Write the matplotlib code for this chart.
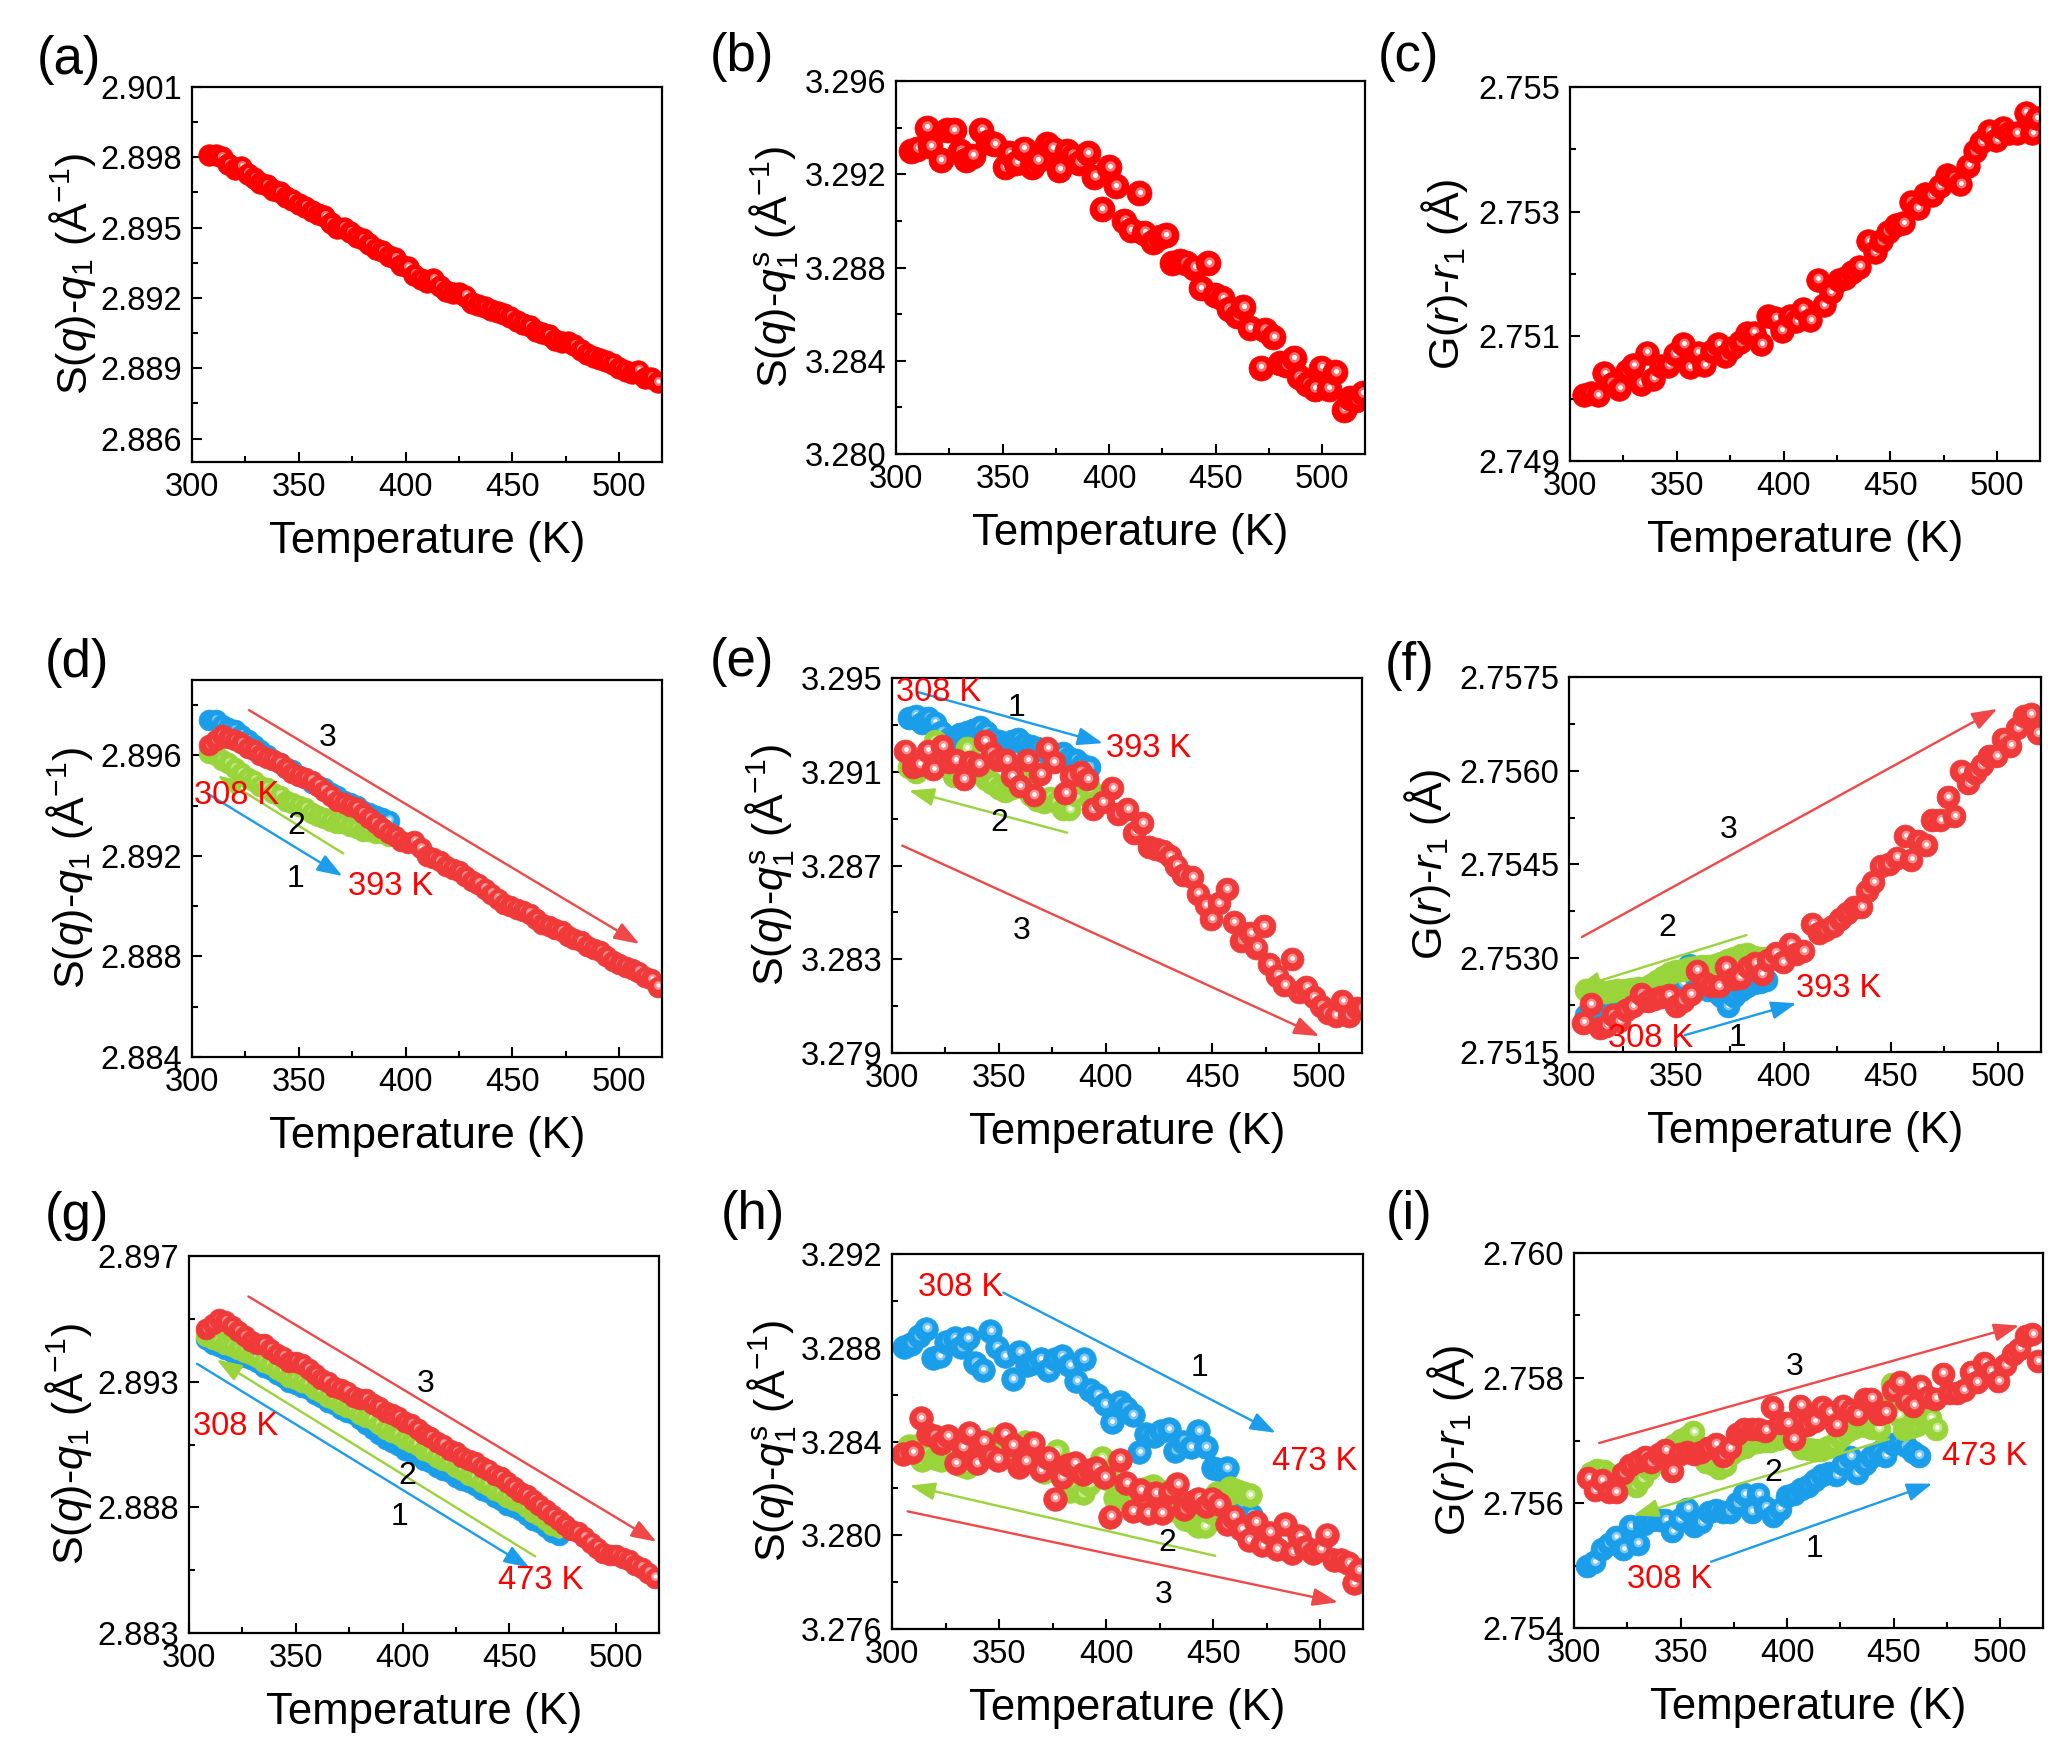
import numpy as np
import matplotlib
matplotlib.use('Agg')
import matplotlib.pyplot as plt
import matplotlib.transforms as mtransforms
from matplotlib.ticker import FixedLocator, FormatStrFormatter

plt.rcParams['font.family'] = ['Liberation Sans', 'DejaVu Sans']
plt.rcParams['mathtext.fontset'] = 'custom'
plt.rcParams['mathtext.rm'] = 'Liberation Sans'
plt.rcParams['mathtext.it'] = 'Liberation Sans:italic'
plt.rcParams['mathtext.bf'] = 'Liberation Sans:bold'

# ---------------- data ----------------
T_full = np.arange(308, 519, 3)      # 308 ... 518 K
T_393 = np.arange(308, 393, 3)       # 308 ... 392 K
T_473 = np.arange(308, 474, 3)       # 308 ... 473 K

# (a)
a_red = [2.8981, 2.8981, 2.8980, 2.8977, 2.8975, 2.8976, 2.8973, 2.8971, 2.8969, 2.8968,
         2.8966, 2.8965, 2.8963, 2.8962, 2.8960, 2.8959, 2.8957, 2.8956, 2.8955, 2.8952,
         2.8950, 2.8950, 2.8948, 2.8946, 2.8945, 2.8943, 2.8941, 2.8940, 2.8938, 2.8937,
         2.8934, 2.8933, 2.8930, 2.8928, 2.8927, 2.8928, 2.8925, 2.8923, 2.8922, 2.8922,
         2.8921, 2.8918, 2.8917, 2.8916, 2.8915, 2.8914, 2.8913, 2.8912, 2.8910, 2.8909,
         2.8908, 2.8906, 2.8905, 2.8904, 2.8902, 2.8901, 2.8901, 2.8900, 2.8898, 2.8896,
         2.8895, 2.8894, 2.8893, 2.8892, 2.8890, 2.8889, 2.8888, 2.8889, 2.8886, 2.8886,
         2.8884]

# (b)
b_T = [307, 310, 314.5, 316, 321, 324, 327, 330, 333, 336, 340, 343, 346, 351, 353,
       356.5, 360, 364, 366.5, 371, 373.5, 376.5, 380, 383, 386, 390, 393, 396.5, 400, 403,
       407, 410, 414, 416.5, 420.5, 424, 426.5, 429.5, 433, 436, 440, 443, 446.5, 449.5, 453,
       456, 460, 463, 466, 471, 473, 477, 480, 483, 486.5, 489, 493, 496.5, 499.5, 503,
       506, 510, 513, 516, 519]
b_red = [3.2930, 3.2931, 3.2940, 3.2932, 3.2926, 3.2939, 3.2939, 3.2930, 3.2926, 3.2928,
         3.2939, 3.2934, 3.2933, 3.2923, 3.2929, 3.2925, 3.2931, 3.2923, 3.2926, 3.2933,
         3.2931, 3.2922, 3.2930, 3.2928, 3.2925, 3.2929, 3.2919, 3.2905, 3.2923, 3.2915,
         3.2900, 3.2896, 3.2912, 3.2895, 3.2891, 3.2893, 3.2894, 3.2882, 3.2883, 3.2882,
         3.2880, 3.2871, 3.2882, 3.2868, 3.2867, 3.2862, 3.2859, 3.2863, 3.2854, 3.2837,
         3.2853, 3.2850, 3.2839, 3.2838, 3.2841, 3.2833, 3.2830, 3.2828, 3.2837, 3.2828,
         3.2835, 3.2819, 3.2824, 3.2823, 3.2826]

# (c)
c_T = [306.5, 309.6, 313, 316, 319.5, 323, 326.6, 329.7, 333, 336, 339, 342.4, 346, 349, 353,
       356, 359.8, 362.8, 366.3, 369.4, 372.7, 376, 379.6, 382.7, 386, 389.5, 392.7, 396, 399,
       402.8, 405.8, 409, 412.4, 416, 418.7, 422, 425.7, 428.8, 432, 435.5, 439.5, 442.7, 445.8,
       448.8, 452.5, 456, 459.5, 462.8, 466.3, 469.3, 473, 476.5, 479.5, 482.6, 486.3, 489.4,
       492.4, 496.3, 499.6, 502.7, 505.7, 509.2, 513.3, 516.4, 518.4]
c_red = [2.75006, 2.75009, 2.75006, 2.75041, 2.75024, 2.75016, 2.75044, 2.75054, 2.75024, 2.75074,
         2.75032, 2.75053, 2.75053, 2.75071, 2.75088, 2.75050, 2.75074, 2.75054, 2.75076, 2.75088,
         2.75068, 2.75082, 2.75091, 2.75106, 2.75106, 2.75088, 2.75132, 2.75129, 2.75109, 2.75132,
         2.75124, 2.75144, 2.75126, 2.75191, 2.75150, 2.75171, 2.75191, 2.75194, 2.75203, 2.75212,
         2.75253, 2.75235, 2.75253, 2.75268, 2.75279, 2.75282, 2.75315, 2.75306, 2.75329, 2.75326,
         2.75341, 2.75359, 2.75353, 2.75344, 2.75374, 2.75397, 2.75412, 2.75429, 2.75415, 2.75435,
         2.75426, 2.75426, 2.75459, 2.75426, 2.75450]

# (d)
d_blue = [2.8974, 2.8974, 2.8972, 2.8971, 2.8970, 2.8968, 2.8966, 2.8964, 2.8962, 2.8960,
          2.8958, 2.8957, 2.8955, 2.8954, 2.8952, 2.8951, 2.8949, 2.8948, 2.8947, 2.8945,
          2.8944, 2.8942, 2.8941, 2.8940, 2.8938, 2.8937, 2.8936, 2.8935, 2.8934]
d_green = [2.8961, 2.8960, 2.8958, 2.8957, 2.8955, 2.8953, 2.8951, 2.8950, 2.8948, 2.8947,
           2.8945, 2.8944, 2.8942, 2.8941, 2.8940, 2.8939, 2.8937, 2.8936, 2.8935, 2.8934,
           2.8933, 2.8933, 2.8932, 2.8931, 2.8930, 2.8930, 2.8929, 2.8929, 2.8928]
d_red = [2.8964, 2.8966, 2.8968, 2.8967, 2.8966, 2.8965, 2.8963, 2.8962, 2.8960, 2.8959,
         2.8958, 2.8957, 2.8955, 2.8953, 2.8952, 2.8951, 2.8950, 2.8948, 2.8946, 2.8944,
         2.8942, 2.8941, 2.8940, 2.8939, 2.8937, 2.8935, 2.8933, 2.8931, 2.8929, 2.8928,
         2.8926, 2.8925, 2.8926, 2.8923, 2.8920, 2.8919, 2.8918, 2.8916, 2.8915, 2.8914,
         2.8912, 2.8910, 2.8909, 2.8907, 2.8905, 2.8903, 2.8901, 2.8900, 2.8899, 2.8898,
         2.8897, 2.8895, 2.8893, 2.8892, 2.8891, 2.8890, 2.8888, 2.8887, 2.8886, 2.8884,
         2.8883, 2.8882, 2.8880, 2.8878, 2.8877, 2.8876, 2.8875, 2.8874, 2.8872, 2.8871,
         2.8868]

# (e)
e_blue = [3.2933, 3.2934, 3.2931, 3.2933, 3.2931, 3.2927, 3.2924, 3.2925, 3.2926, 3.2927,
          3.2928, 3.2929, 3.2927, 3.2924, 3.2923, 3.2922, 3.2923, 3.2924, 3.2922, 3.2921,
          3.2920, 3.2919, 3.2918, 3.2917, 3.2918, 3.2916, 3.2915, 3.2913, 3.2912]
e_green = [3.2912, 3.2910, 3.2913, 3.2915, 3.2923, 3.2918, 3.2912, 3.2908, 3.2911, 3.2920,
           3.2914, 3.2910, 3.2907, 3.2905, 3.2903, 3.2902, 3.2903, 3.2904, 3.2905, 3.2900,
           3.2898, 3.2897, 3.2899, 3.2897, 3.2894, 3.2894, 3.2900, 3.2905, 3.2903]
e_T = [306.3, 310, 313, 316.7, 319.4, 323.6, 326.7, 329.9, 333.6, 336.7, 340.3, 343.4, 346.6,
       349.7, 353.4, 356, 359.7, 363.3, 366.4, 369.5, 372.7, 375.8, 381, 384, 388.3, 391.4, 394,
       398.7, 403, 406, 410, 413.4, 417, 420.3, 423.8, 427, 430, 433, 436.3, 440.5, 443.2, 446.8,
       449.5, 453, 456.6, 460, 463.5, 467.6, 470.4, 474, 476.6, 480.3, 483.7, 487, 490.6, 494,
       497.5, 501, 504, 507.8, 510.8, 514, 517.7, 520]
e_red = [3.2919, 3.2912, 3.2913, 3.2919, 3.2911, 3.2921, 3.2914, 3.2915, 3.2907, 3.2914,
         3.2913, 3.2923, 3.2918, 3.2915, 3.2915, 3.2908, 3.2904, 3.2915, 3.2900, 3.2909,
         3.2920, 3.2914, 3.2901, 3.2908, 3.2910, 3.2907, 3.2894, 3.2897, 3.2903, 3.2892,
         3.2894, 3.2884, 3.2888, 3.2878, 3.2877, 3.2876, 3.2874, 3.2870, 3.2866, 3.2865,
         3.2858, 3.2853, 3.2847, 3.2854, 3.2860, 3.2846, 3.2838, 3.2841, 3.2835, 3.2844,
         3.2828, 3.2823, 3.2819, 3.2830, 3.2816, 3.2818, 3.2814, 3.2810, 3.2807, 3.2806,
         3.2812, 3.2806, 3.2809, 3.2809]

# (f)
f_blue = [2.75210, 2.75212, 2.75215, 2.75218, 2.75220, 2.75223, 2.75226, 2.75229, 2.75232, 2.75234,
          2.75236, 2.75238, 2.75240, 2.75242, 2.75245, 2.75260, 2.75290, 2.75270, 2.75255, 2.75250,
          2.75248, 2.75240, 2.75224, 2.75240, 2.75249, 2.75255, 2.75260, 2.75262, 2.75265]
f_green = [2.75249, 2.75250, 2.75248, 2.75246, 2.75248, 2.75249, 2.75250, 2.75251, 2.75252, 2.75252,
           2.75258, 2.75264, 2.75270, 2.75277, 2.75280, 2.75282, 2.75284, 2.75286, 2.75287, 2.75288,
           2.75290, 2.75293, 2.75297, 2.75300, 2.75305, 2.75306, 2.75302, 2.75300, 2.75300]
f_T = [306.7, 310.2, 314.3, 317.3, 320.4, 323.5, 326.5, 329.6, 333.7, 336.7, 339.8, 342.9, 346.5,
       350, 353, 356.7, 359.6, 363.3, 366.3, 369.8, 373, 376.5, 379.6, 383.3, 386.7, 389.8, 392.9,
       396.3, 399.6, 403, 406, 409.2, 413.3, 416.3, 419.4, 422.9, 426.5, 429.6, 433, 436.3, 438.8,
       441.8, 445.3, 449, 452.7, 456.7, 459.6, 462.9, 466.3, 469.4, 473, 476.5, 479.6, 482.7,
       486.1, 489.4, 492.4, 495.9, 499, 502.4, 505.7, 508.8, 512.2, 515.3, 518.4]
f_red = [2.75197, 2.75226, 2.75189, 2.75192, 2.75209, 2.75200, 2.75217, 2.75223, 2.75243, 2.75232,
         2.75235, 2.75238, 2.75241, 2.75223, 2.75232, 2.75243, 2.75280, 2.75260, 2.75255, 2.75255,
         2.75286, 2.75266, 2.75269, 2.75286, 2.75292, 2.75275, 2.75297, 2.75308, 2.75294, 2.75323,
         2.75306, 2.75311, 2.75354, 2.75340, 2.75345, 2.75351, 2.75362, 2.75373, 2.75382, 2.75382,
         2.75408, 2.75422, 2.75447, 2.75450, 2.75461, 2.75495, 2.75458, 2.75487, 2.75481, 2.75521,
         2.75521, 2.75558, 2.75527, 2.75600, 2.75580, 2.75597, 2.75609, 2.75623, 2.75623, 2.75651,
         2.75640, 2.75668, 2.75688, 2.75691, 2.75660]

# (g)
g_blue = [2.8947, 2.8945, 2.8944, 2.8943, 2.8942, 2.8941, 2.8940, 2.8939, 2.8938, 2.8936,
          2.8935, 2.8933, 2.8932, 2.8930, 2.8929, 2.8928, 2.8927, 2.8925, 2.8924, 2.8922,
          2.8921, 2.8919, 2.8918, 2.8917, 2.8915, 2.8913, 2.8911, 2.8909, 2.8907, 2.8906,
          2.8905, 2.8903, 2.8902, 2.8901, 2.8899, 2.8898, 2.8896, 2.8895, 2.8894, 2.8892,
          2.8891, 2.8890, 2.8889, 2.8887, 2.8886, 2.8884, 2.8883, 2.8881, 2.8880, 2.8879,
          2.8877, 2.8875, 2.8874, 2.8872, 2.8870, 2.8869]
g_green = [2.8948, 2.8947, 2.8946, 2.8945, 2.8944, 2.8943, 2.8942, 2.8941, 2.8940, 2.8938,
           2.8937, 2.8935, 2.8934, 2.8932, 2.8931, 2.8930, 2.8929, 2.8927, 2.8926, 2.8924,
           2.8923, 2.8921, 2.8920, 2.8919, 2.8917, 2.8916, 2.8915, 2.8913, 2.8911, 2.8910,
           2.8909, 2.8907, 2.8906, 2.8905, 2.8903, 2.8902, 2.8900, 2.8899, 2.8898, 2.8896,
           2.8895, 2.8893, 2.8892, 2.8890, 2.8889, 2.8887, 2.8886, 2.8884, 2.8883, 2.8882,
           2.8880, 2.8878, 2.8877, 2.8875, 2.8873, 2.8872]
g_red = [2.8951, 2.8953, 2.8955, 2.8954, 2.8952, 2.8950, 2.8948, 2.8946, 2.8945, 2.8945,
         2.8943, 2.8941, 2.8940, 2.8938, 2.8938, 2.8937, 2.8935, 2.8933, 2.8931, 2.8930,
         2.8928, 2.8927, 2.8926, 2.8924, 2.8923, 2.8923, 2.8921, 2.8920, 2.8918, 2.8917,
         2.8916, 2.8914, 2.8913, 2.8911, 2.8909, 2.8908, 2.8906, 2.8905, 2.8903, 2.8902,
         2.8900, 2.8899, 2.8898, 2.8896, 2.8895, 2.8893, 2.8892, 2.8890, 2.8888, 2.8886,
         2.8885, 2.8883, 2.8881, 2.8879, 2.8877, 2.8875, 2.8873, 2.8871, 2.8870, 2.8868,
         2.8866, 2.8864, 2.8862, 2.8861, 2.8861, 2.8860, 2.8859, 2.8857, 2.8856, 2.8854,
         2.8852]

# (h)
h_Tb = [305.6, 309, 312.5, 316, 319.2, 322.3, 325.4, 329.2, 332.3, 335.4, 339, 342.3, 345.8,
        349, 352.7, 356.3, 359.4, 363, 366, 369.4, 372.9, 376, 379.2, 382.7, 386, 389.6, 392.7,
        395.8, 399.4, 402.7, 406.3, 409.4, 412.5, 415.6, 418.8, 422.3, 425.6, 429.2, 432.3, 436,
        439.6, 443.1, 446.5, 450, 453, 456.3, 459.4, 463, 467.7]
h_blue = [3.28803, 3.28818, 3.28849, 3.28882, 3.28757, 3.28765, 3.28826, 3.28841, 3.28803, 3.28841,
          3.28734, 3.28704, 3.28872, 3.28803, 3.28765, 3.28666, 3.28780, 3.28727, 3.28735, 3.28750,
          3.28704, 3.28750, 3.28765, 3.28727, 3.28659, 3.28750, 3.28620, 3.28597, 3.28559, 3.28483,
          3.28567, 3.28544, 3.28514, 3.28354, 3.28430, 3.28422, 3.28445, 3.28453, 3.28361, 3.28400,
          3.28377, 3.28445, 3.28377, 3.28285, 3.28278, 3.28285, 3.28186, 3.28140, 3.28087]
h_Tg = np.arange(308, 468, 3)
h_green = [3.2838, 3.2838, 3.2832, 3.2835, 3.2833, 3.2832, 3.2834, 3.2836, 3.2830, 3.2829,
           3.2832, 3.2834, 3.2838, 3.2841, 3.2839, 3.2837, 3.2836, 3.2834, 3.2840, 3.2838,
           3.2830, 3.2827, 3.2833, 3.2836, 3.2826, 3.2819, 3.2820, 3.2818, 3.2822, 3.2828,
           3.2833, 3.2824, 3.2816, 3.2818, 3.2815, 3.2815, 3.2818, 3.2820, 3.2821, 3.2819,
           3.2818, 3.2814, 3.2810, 3.2807, 3.2806, 3.2804, 3.2804, 3.2810, 3.2818, 3.2815,
           3.2820, 3.2819, 3.2818, 3.2817]
h_Tr = [305.2, 309.4, 313.5, 316.7, 319.8, 323, 326, 329.8, 333, 336, 339.6, 342.7, 345.8, 349.4,
        352.7, 356.3, 359.4, 362.5, 366, 369.4, 372.9, 376, 379.2, 382.3, 385.4, 389, 392.3, 395.4,
        399, 402, 406.3, 409.4, 412.5, 416, 419.4, 423, 426, 429.8, 433.3, 436.5, 440.2, 443.1,
        446.5, 449.4, 452.7, 456.3, 459.4, 463, 466.6, 469.8, 473, 476.5, 479.8, 483.4, 486.9,
        490.2, 493.1, 496.5, 500, 503, 506.3, 509.8, 513.1, 515.6, 518.1]
h_red = [3.28347, 3.28354, 3.28499, 3.28430, 3.28422, 3.28392, 3.28422, 3.28308, 3.28377, 3.28438,
         3.28308, 3.28400, 3.28339, 3.28323, 3.28430, 3.28385, 3.28293, 3.28316, 3.28392, 3.28278,
         3.28331, 3.28156, 3.28247, 3.28300, 3.28308, 3.28262, 3.28278, 3.28285, 3.28247, 3.28080,
         3.28323, 3.28224, 3.28102, 3.28194, 3.28095, 3.28179, 3.28095, 3.28186, 3.28217, 3.28110,
         3.28140, 3.28156, 3.28125, 3.28156, 3.28133, 3.28049, 3.28080, 3.28026, 3.27980, 3.28057,
         3.27957, 3.28011, 3.27942, 3.28049, 3.27926, 3.27995, 3.27949, 3.27926, 3.27942, 3.28003,
         3.27896, 3.27896, 3.27880, 3.27796, 3.27850]

# (i)
i_Tb = [306.1, 309.4, 312.9, 316.3, 319.6, 323, 326.5, 329.8, 332.9, 336.3, 339.8, 342.9, 346.1,
        349.6, 353, 356.3, 359.8, 363.3, 366.5, 370, 373, 376.5, 379.8, 383.3, 386.3, 389.8, 393.5,
        396.5, 400, 403.3, 406.7, 409.8, 412.9, 416.3, 419.6, 423, 426, 429.6, 432.7, 436.3,
        439.4, 442.9, 446.1, 449.6, 452.7, 455.7, 459.2, 461.8]
i_blue = [2.75500, 2.75506, 2.75526, 2.75535, 2.75546, 2.75526, 2.75563, 2.75535, 2.75566, 2.75572,
          2.75572, 2.75572, 2.75555, 2.75574, 2.75591, 2.75563, 2.75569, 2.75586, 2.75589, 2.75586,
          2.75586, 2.75600, 2.75614, 2.75586, 2.75614, 2.75594, 2.75580, 2.75591, 2.75611, 2.75614,
          2.75623, 2.75628, 2.75637, 2.75645, 2.75648, 2.75645, 2.75662, 2.75674, 2.75648, 2.75662,
          2.75674, 2.75682, 2.75676, 2.75694, 2.75697, 2.75691, 2.75682, 2.75676]
i_Tg = np.arange(308, 471, 3)
i_green = [2.75648, 2.75652, 2.75651, 2.75645, 2.75642, 2.75636, 2.75632, 2.75628, 2.75640, 2.75655,
           2.75665, 2.75676, 2.75684, 2.75692, 2.75700, 2.75706, 2.75713, 2.75690, 2.75665, 2.75662,
           2.75656, 2.75660, 2.75680, 2.75686, 2.75690, 2.75696, 2.75698, 2.75699, 2.75699, 2.75702,
           2.75705, 2.75708, 2.75700, 2.75688, 2.75686, 2.75685, 2.75685, 2.75690, 2.75694, 2.75705,
           2.75716, 2.75720, 2.75725, 2.75723, 2.75720, 2.75719, 2.75750, 2.75790, 2.75740, 2.75719,
           2.75722, 2.75725, 2.75732, 2.75736, 2.75719]
i_Tr = [306.7, 309.8, 312.9, 316.3, 319.6, 323, 326.5, 329.8, 333.3, 336.3, 339.8, 342.9, 346.1,
        349.6, 353, 356.3, 359.8, 362.9, 366.5, 370, 373, 376.5, 379.8, 383.3, 386.3, 389.8, 393,
        396.5, 400, 403, 406, 409.4, 412.9, 416.3, 419.6, 423, 426, 429.8, 432.9, 436.3, 439.4,
        442.9, 446.1, 449.6, 452.7, 455.7, 459.2, 462.4, 465.9, 469.4, 473, 476.1, 479.6, 482.9,
        486, 489, 492.4, 495.5, 499, 502.2, 505.7, 508.8, 511.8, 514.9, 517.6]
i_red = [2.75640, 2.75620, 2.75637, 2.75617, 2.75617, 2.75648, 2.75660, 2.75668, 2.75674, 2.75665,
         2.75679, 2.75685, 2.75651, 2.75679, 2.75682, 2.75679, 2.75682, 2.75688, 2.75694, 2.75676,
         2.75688, 2.75711, 2.75719, 2.75719, 2.75719, 2.75716, 2.75753, 2.75728, 2.75728, 2.75702,
         2.75756, 2.75725, 2.75731, 2.75753, 2.75745, 2.75725, 2.75756, 2.75748, 2.75742, 2.75767,
         2.75767, 2.75742, 2.75745, 2.75781, 2.75793, 2.75765, 2.75756, 2.75787, 2.75770, 2.75767,
         2.75807, 2.75776, 2.75776, 2.75781, 2.75810, 2.75793, 2.75824, 2.75810, 2.75795, 2.75821,
         2.75838, 2.75847, 2.75867, 2.75870, 2.75827]

# axis ranges / ticks
ylims = {'a': (2.885, 2.901), 'b': (3.280, 3.296), 'c': (2.749, 2.755),
         'd': (2.884, 2.899), 'e': (3.279, 3.295), 'f': (2.7515, 2.7575),
         'g': (2.883, 2.898), 'h': (3.276, 3.292), 'i': (2.754, 2.760)}
yticks = {'a': [2.886, 2.889, 2.892, 2.895, 2.898, 2.901],
          'b': [3.280, 3.284, 3.288, 3.292, 3.296],
          'c': [2.749, 2.751, 2.753, 2.755],
          'd': [2.884, 2.888, 2.892, 2.896],
          'e': [3.279, 3.283, 3.287, 3.291, 3.295],
          'f': [2.7515, 2.7530, 2.7545, 2.7560, 2.7575],
          'g': [2.883, 2.888, 2.893, 2.898],
          'h': [3.276, 3.280, 3.284, 3.288, 3.292],
          'i': [2.754, 2.756, 2.758, 2.760]}
g_ticklabels = ['2.883', '2.888', '2.893', '2.897']

# arrows (start, end) and labels per panel
arrows = {
    'd': [((306.9, 2.8945), (370.4, 2.8912), 'b'), ((370.8, 2.8921), (312, 2.8952), 'g'),
          ((326.7, 2.8978), (509.4, 2.8885), 'r')],
    'e': [((312.1, 3.2944), (398.7, 3.29222), 'b'), ((382, 3.2884), (307.9, 3.2902), 'g'),
          ((304.8, 3.28785), (500, 3.27972), 'r')],
    'f': [((354, 2.75177), (406, 2.75228), 'b'), ((382.7, 2.75337), (303, 2.75252), 'g'),
          ((306, 2.75334), (499.6, 2.75699), 'r')],
    'g': [((303.8, 2.89371), (459.3, 2.88560), 'b'), ((462, 2.88605), (313, 2.89388), 'g'),
          ((327.8, 2.89639), (518.8, 2.88663), 'r')],
    'h': [((352, 3.29035), (479.2, 3.28437), 'b'), ((451, 3.27912), (308.3, 3.28212), 'g'),
          ((307.3, 3.28102), (508.3, 3.27714), 'r')],
    'i': [((364.3, 2.75506), (468, 2.75631), 'b'), ((447.6, 2.75702), (327.8, 2.75580), 'g'),
          ((311.8, 2.75696), (508.8, 2.75884), 'r')],
}
numbers = {
    'd': [('1', 348.5, 2.8911), ('2', 349, 2.8932), ('3', 363.5, 2.8967)],
    'e': [('1', 358.5, 3.2937), ('2', 350, 3.2888), ('3', 360.5, 3.2842)],
    'f': [('1', 378.6, 2.75172), ('2', 346, 2.75348), ('3', 374.5, 2.75506)],
    'g': [('1', 398.7, 2.8876), ('2', 402, 2.88925), ('3', 411, 2.8929)],
    'h': [('1', 443.8, 3.28712), ('2', 428.5, 3.27966), ('3', 427, 3.27745)],
    'i': [('1', 412.9, 2.75526), ('2', 393.5, 2.75648), ('3', 403.3, 2.75817)],
}
temps = {
    'd': [('308 K', 301, 2.8944), ('393 K', 373, 2.8908)],
    'e': [('308 K', 301.7, 3.2944), ('393 K', 400, 3.2920)],
    'f': [('308 K', 318.4, 2.75172), ('393 K', 406, 2.75251)],
    'g': [('308 K', 302, 2.8912), ('473 K', 444.7, 2.8851)],
    'h': [('308 K', 312, 3.29055), ('473 K', 477.5, 3.28316)],
    'i': [('308 K', 325, 2.75478), ('473 K', 472.6, 2.75674)],
}

ylab_q = r'S($\mathit{q}$)-$\mathit{q}_1$ (Å$^{-1}$)'
ylab_qs = r'S($\mathit{q}$)-$\mathit{q}_1^{\mathrm{s}}$ (Å$^{-1}$)'
ylab_r = r'G($\mathit{r}$)-$\mathit{r}_1$ (Å)'
ylabels = {'a': ylab_q, 'b': ylab_qs, 'c': ylab_r, 'd': ylab_q, 'e': ylab_qs,
           'f': ylab_r, 'g': ylab_q, 'h': ylab_qs, 'i': ylab_r}

# ---------------- layout / style ----------------
W, H = 2048, 1743
frames = {  # left, top, right, bottom in pixels
    'a': (192, 87, 662, 462), 'b': (896, 81, 1365, 454), 'c': (1570, 87, 2040, 461),
    'd': (192, 680, 662, 1057), 'e': (892, 678, 1362, 1053), 'f': (1569, 677, 2041, 1052),
    'g': (189, 1256, 659, 1633), 'h': (892, 1254, 1363, 1629), 'i': (1574, 1253, 2043, 1628)}
ylab_x = {'a': -0.255, 'b': -0.259, 'c': -0.267, 'd': -0.26, 'e': -0.26,
          'f': -0.299, 'g': -0.257, 'h': -0.255, 'i': -0.264}
letter_pos = {'a': (69, 60), 'b': (742, 57), 'c': (1408, 57), 'd': (77, 663),
              'e': (742, 662), 'f': (1410, 666), 'g': (77, 1216), 'h': (753, 1215),
              'i': (1409, 1215)}
msize = {'a': 15.5, 'b': 18, 'c': 17, 'd': 15, 'e': 16.5, 'f': 16.5,
         'g': 15, 'h': 17, 'i': 16.5}

RED_TOP = '#FF0000'
RED = '#F03A3A'
BLUE = '#1A9EEA'
GREEN = '#98D43A'
LITE = {RED_TOP: '#FF7070', RED: '#F79090', BLUE: '#7CC6F3', GREEN: '#C6E98C'}
ARROW_COL = {'b': '#1C9CEA', 'g': '#9AD33A', 'r': '#F04848'}

fig = plt.figure(figsize=(W / 100, H / 100), dpi=100)


def balls(ax, x, y, col, ms):
    lite = LITE[col]
    tr = mtransforms.offset_copy(ax.transData, fig=fig, x=0.4, y=0.9, units='points')
    for xi, yi in zip(x, y):
        ax.plot([xi], [yi], ls='none', marker='o', ms=ms, mfc=col, mec=col, mew=0.5)
        ax.plot([xi], [yi], ls='none', marker='o', ms=ms * 0.42, mfc=lite, mec='none',
                transform=tr)
        ax.plot([xi], [yi], ls='none', marker='o', ms=ms * 0.2, mfc='white', mec='none',
                transform=tr)


axes = {}
for key, (l, t, r, b) in frames.items():
    ax = fig.add_axes([l / W, 1 - b / H, (r - l) / W, (b - t) / H])
    axes[key] = ax
    ax.set_xlim(300, 520)
    ax.set_ylim(*ylims[key])
    ax.xaxis.set_major_locator(FixedLocator([300, 350, 400, 450, 500]))
    ax.xaxis.set_minor_locator(FixedLocator([325, 375, 425, 475, 525]))
    yt = yticks[key]
    step = yt[1] - yt[0]
    ax.yaxis.set_major_locator(FixedLocator(yt))
    ax.yaxis.set_minor_locator(FixedLocator([v + step / 2 for v in yt[:-1]] + [yt[-1] + step / 2]))
    if key == 'g':
        ax.set_yticklabels(g_ticklabels)
    elif key == 'f':
        ax.yaxis.set_major_formatter(FormatStrFormatter('%.4f'))
    else:
        ax.yaxis.set_major_formatter(FormatStrFormatter('%.3f'))
    ax.tick_params(which='both', direction='in', top=False, right=False,
                   labelsize=23.5, width=1.5, pad=7)
    ax.tick_params(which='major', length=7)
    ax.tick_params(which='minor', length=4)
    for sp in ax.spines.values():
        sp.set_linewidth(1.6)
    ax.set_xlabel('Temperature (K)', fontsize=31.5)
    ax.xaxis.set_label_coords(0.5, -0.212)
    ax.xaxis.label.set_va('center')
    ax.set_ylabel(ylabels[key], fontsize=31)
    ax.yaxis.set_label_coords(ylab_x[key], 0.5)
    ax.yaxis.label.set_va('center')
    lx, ly = letter_pos[key]
    fig.text(lx / W, 1 - ly / H, '(%s)' % key, fontsize=38, ha='center', va='center')

# top row
balls(axes['a'], T_full, a_red, RED_TOP, msize['a'])
balls(axes['b'], b_T, b_red, RED_TOP, msize['b'])
balls(axes['c'], c_T, c_red, RED_TOP, msize['c'])

# middle row
balls(axes['d'], T_393, d_blue, BLUE, msize['d'])
balls(axes['d'], T_393, d_green, GREEN, msize['d'])
balls(axes['d'], T_full, d_red, RED, msize['d'])
balls(axes['e'], T_393, e_blue, BLUE, msize['e'])
balls(axes['e'], T_393, e_green, GREEN, msize['e'])
balls(axes['e'], e_T, e_red, RED, msize['e'])
balls(axes['f'], T_393, f_blue, BLUE, msize['f'])
balls(axes['f'], T_393, f_green, GREEN, msize['f'])
balls(axes['f'], f_T, f_red, RED, msize['f'])

# bottom row
balls(axes['g'], T_473, g_blue, BLUE, msize['g'])
balls(axes['g'], T_473, g_green, GREEN, msize['g'])
balls(axes['g'], T_full, g_red, RED, msize['g'])
balls(axes['h'], h_Tb, h_blue, BLUE, msize['h'])
balls(axes['h'], h_Tg, h_green, GREEN, msize['h'])
balls(axes['h'], h_Tr, h_red, RED, msize['h'])
balls(axes['i'], i_Tb, i_blue, BLUE, msize['i'])
balls(axes['i'], i_Tg, i_green, GREEN, msize['i'])
balls(axes['i'], i_Tr, i_red, RED, msize['i'])

for key in arrows:
    ax = axes[key]
    for p0, p1, c in arrows[key]:
        ax.annotate('', xy=p1, xytext=p0,
                    arrowprops=dict(arrowstyle='-|>,head_length=0.7,head_width=0.25',
                                    color=ARROW_COL[c], lw=1.7, shrinkA=0, shrinkB=0,
                                    mutation_scale=22), zorder=5)
    for s, x, y in numbers[key]:
        ax.text(x, y, s, fontsize=23, ha='center', va='center', color='black', zorder=6)
    for s, x, y in temps[key]:
        ax.text(x, y, s, fontsize=23.5, ha='left', va='center', color='#FF0000', zorder=6)

fig.savefig('out.png', dpi=100)
